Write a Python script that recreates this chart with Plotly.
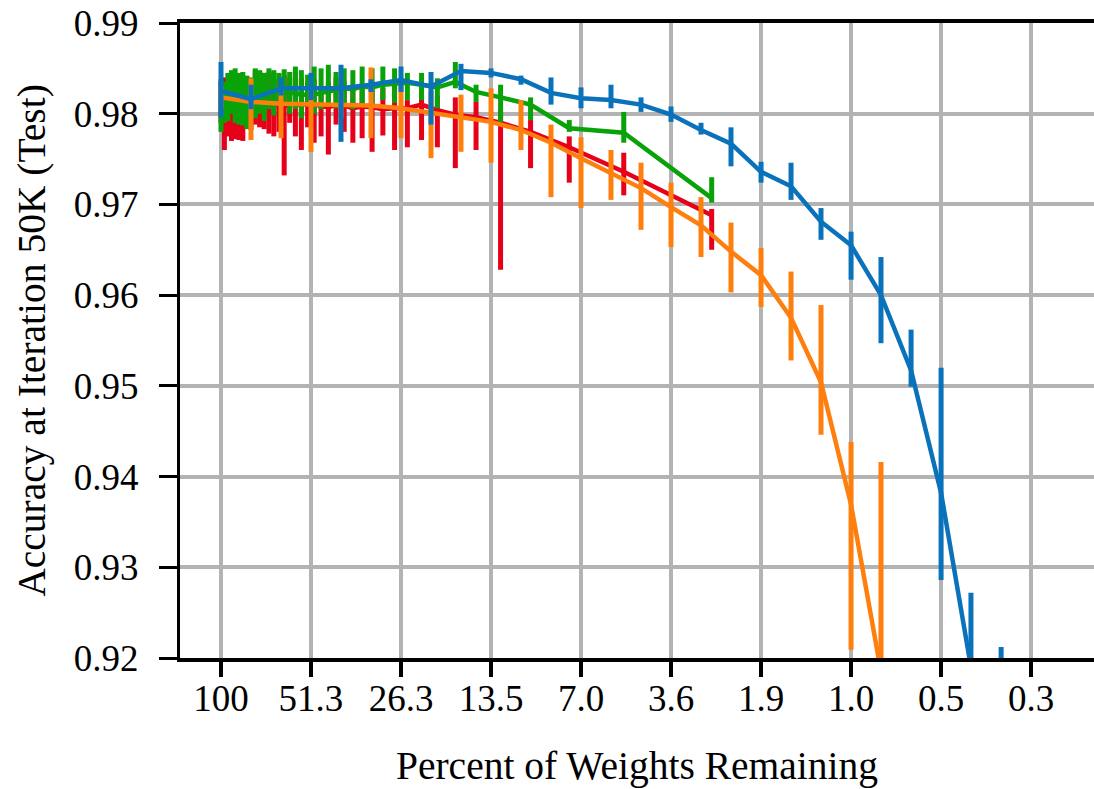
import plotly.graph_objects as go

# ---------------- data ----------------
# percent of prunable weights remaining, 20% pruned per round (blue, orange)
pct_iter = [100.0, 80.0, 64.0, 51.2, 40.96, 32.77, 26.21, 20.97, 16.78, 13.42,
            10.74, 8.59, 6.872, 5.498, 4.398, 3.518, 2.815, 2.252, 1.801, 1.441,
            1.153, 0.922, 0.738, 0.590, 0.472, 0.378, 0.302]

# percent of prunable weights remaining, 2.5 points pruned per round (red, green)
pct_lin = [100.0, 97.5, 95.0, 92.5, 90.0, 87.5, 85.0, 82.5, 80.0, 77.5,
           75.0, 72.5, 70.0, 67.5, 65.0, 62.5, 60.0, 57.5, 55.0, 52.5,
           50.0, 47.5, 45.0, 42.5, 40.0, 37.5, 35.0, 32.5, 30.0, 27.5,
           25.0, 22.5, 20.0, 17.5, 15.0, 12.5, 10.0, 7.5, 5.0, 2.6]

blue_mean = [0.9825, 0.9816, 0.9828, 0.9828, 0.9828, 0.9832, 0.9837, 0.9830, 0.9847, 0.9845,
             0.9838, 0.9823, 0.9817, 0.9815, 0.9810, 0.9799, 0.9782, 0.9767, 0.9736, 0.9720,
             0.9681, 0.9655, 0.9600, 0.9517, 0.9382, 0.9190, 0.9100]
blue_hi = [0.9857, 0.9832, 0.9840, 0.9845, 0.9854, 0.9838, 0.9852, 0.9846, 0.9855, 0.9850,
           0.9842, 0.9840, 0.9829, 0.9832, 0.9818, 0.9808, 0.9790, 0.9785, 0.9747, 0.9746,
           0.9696, 0.9670, 0.9642, 0.9562, 0.9520, 0.9272, 0.9212]
blue_lo = [0.9796, 0.9805, 0.9820, 0.9815, 0.9769, 0.9824, 0.9824, 0.9788, 0.9826, 0.9840,
           0.9832, 0.9810, 0.9806, 0.9806, 0.9802, 0.9791, 0.9777, 0.9742, 0.9724, 0.9705,
           0.9661, 0.9617, 0.9547, 0.9499, 0.9286, 0.9100, 0.9000]

orange_mean = [0.9818, 0.9813, 0.9811, 0.9810, 0.9810, 0.9809, 0.9806, 0.9801, 0.9796, 0.9791,
               0.9782, 0.9768, 0.9751, 0.9735, 0.9718, 0.9697, 0.9677, 0.9648, 0.9622, 0.9575,
               0.9504, 0.9369, 0.9185]
orange_hi = [0.9830, 0.9839, 0.9830, 0.9830, 0.9825, 0.9851, 0.9832, 0.9825, 0.9821, 0.9828,
             0.9815, 0.9788, 0.9774, 0.9760, 0.9746, 0.9724, 0.9708, 0.9680, 0.9652, 0.9626,
             0.9589, 0.9438, 0.9416]
orange_lo = [0.9805, 0.9771, 0.9773, 0.9758, 0.9795, 0.9773, 0.9773, 0.9751, 0.9758, 0.9746,
             0.9760, 0.9708, 0.9696, 0.9705, 0.9672, 0.9653, 0.9642, 0.9603, 0.9587, 0.9528,
             0.9446, 0.9209, 0.8950]

red_mean = [0.9818, 0.9815, 0.9812, 0.9810, 0.9815, 0.9813, 0.9810, 0.9812, 0.9808, 0.9815,
            0.9813, 0.9810, 0.9812, 0.9811, 0.9809, 0.9808, 0.9810, 0.9811, 0.9809, 0.9812,
            0.9810, 0.9808, 0.9807, 0.9810, 0.9809, 0.9806, 0.9808, 0.9807, 0.9805, 0.9806,
            0.9806, 0.9810, 0.9804, 0.9799, 0.9796, 0.9790, 0.9780, 0.9763, 0.9736, 0.9688]
red_hi = [0.9835, 0.9840, 0.9838, 0.9835, 0.9845, 0.9842, 0.9838, 0.9836, 0.9832, 0.9848,
          0.9847, 0.9845, 0.9846, 0.9845, 0.9838, 0.9843, 0.9840, 0.9846, 0.9839, 0.9835,
          0.9838, 0.9830, 0.9834, 0.9840, 0.9836, 0.9825, 0.9832, 0.9830, 0.9828, 0.9832,
          0.9815, 0.9825, 0.9820, 0.9818, 0.9813, 0.9805, 0.9793, 0.9775, 0.9757, 0.9695]
red_lo = [0.9790, 0.9760, 0.9775, 0.9770, 0.9772, 0.9771, 0.9770, 0.9785, 0.9782, 0.9788,
          0.9785, 0.9783, 0.9778, 0.9775, 0.9780, 0.9732, 0.9790, 0.9775, 0.9760, 0.9785,
          0.9768, 0.9775, 0.9755, 0.9788, 0.9780, 0.9768, 0.9773, 0.9758, 0.9776, 0.9760,
          0.9763, 0.9771, 0.9763, 0.9740, 0.9760, 0.9628, 0.9740, 0.9724, 0.9710, 0.9650]

green_mean = [0.9822, 0.9820, 0.9825, 0.9823, 0.9821, 0.9826, 0.9822, 0.9820, 0.9823, 0.9825,
              0.9824, 0.9822, 0.9826, 0.9824, 0.9823, 0.9825, 0.9822, 0.9824, 0.9820, 0.9822,
              0.9821, 0.9823, 0.9825, 0.9826, 0.9828, 0.9827, 0.9830, 0.9829, 0.9832, 0.9833,
              0.9834, 0.9832, 0.9829, 0.9835, 0.9824, 0.9818, 0.9810, 0.9784, 0.9779, 0.9707]
green_hi = [0.9838, 0.9835, 0.9845, 0.9848, 0.9850, 0.9845, 0.9846, 0.9842, 0.9840, 0.9850,
            0.9848, 0.9845, 0.9850, 0.9848, 0.9845, 0.9849, 0.9846, 0.9852, 0.9848, 0.9843,
            0.9852, 0.9850, 0.9854, 0.9846, 0.9850, 0.9848, 0.9852, 0.9850, 0.9852, 0.9850,
            0.9845, 0.9845, 0.9839, 0.9857, 0.9832, 0.9832, 0.9818, 0.9793, 0.9802, 0.9730]
green_lo = [0.9780, 0.9790, 0.9792, 0.9800, 0.9790, 0.9788, 0.9787, 0.9783, 0.9795, 0.9795,
            0.9800, 0.9792, 0.9805, 0.9798, 0.9810, 0.9812, 0.9800, 0.9805, 0.9795, 0.9808,
            0.9800, 0.9805, 0.9810, 0.9806, 0.9812, 0.9805, 0.9808, 0.9810, 0.9815, 0.9812,
            0.9815, 0.9815, 0.9806, 0.9828, 0.9813, 0.9791, 0.9793, 0.9780, 0.9768, 0.9702]

# tick positions (prunable-weight percent) and their printed labels (overall percent)
tick_vals = [100.0, 51.2, 26.21, 13.42, 6.872, 3.518, 1.801, 0.922, 0.472, 0.2418]
tick_text = ["100", "51.3", "26.3", "13.5", "7.0", "3.6", "1.9", "1.0", "0.5", "0.3"]
y_ticks = [0.92, 0.93, 0.94, 0.95, 0.96, 0.97, 0.98, 0.99]

# ---------------- figure ----------------
FONT = "Liberation Serif, Times New Roman, serif"
FS = 37
FT = 39.5
fig = go.Figure()


def add_series(x, mean, lo, hi, color):
    fig.add_trace(go.Scatter(
        x=x[:len(mean)], y=mean, mode="lines",
        line=dict(color=color, width=4.5),
        error_y=dict(type="data", symmetric=False,
                     array=[h - m for h, m in zip(hi, mean)],
                     arrayminus=[m - l for m, l in zip(mean, lo)],
                     color=color, thickness=5, width=0),
        showlegend=False, hoverinfo="skip"))


add_series(pct_lin, red_mean, red_lo, red_hi, "#e60019")
add_series(pct_lin, green_mean, green_lo, green_hi, "#09a309")
add_series(pct_iter, orange_mean, orange_lo, orange_hi, "#ff7f0e")
add_series(pct_iter, blue_mean, blue_lo, blue_hi, "#0a72ba")

fig.update_layout(
    width=1094, height=789,
    margin=dict(l=180, r=0, t=23, b=131),
    paper_bgcolor="white", plot_bgcolor="white",
    font=dict(family=FONT, size=FS, color="black"),
)
fig.update_xaxes(
    type="log", range=[2.1324, -0.820],
    tickvals=tick_vals, ticktext=tick_text,
    showgrid=True, gridcolor="#b3b3b3", gridwidth=4,
    showline=True, linecolor="black", linewidth=4, mirror=True,
    ticks="outside", ticklen=15, tickwidth=4, tickcolor="black",
    ticklabelstandoff=-10,
    automargin=False,
    title=dict(text="Percent of Weights Remaining", standoff=34,
               font=dict(family=FONT, size=FT)),
    tickfont=dict(family=FONT, size=FS),
    zeroline=False,
)
fig.update_yaxes(
    range=[0.92, 0.99], tickvals=y_ticks, ticktext=[f"{v:.2f}" for v in y_ticks],
    showgrid=True, gridcolor="#b3b3b3", gridwidth=4,
    showline=True, linecolor="black", linewidth=3, mirror=False,
    ticks="outside", ticklen=18, tickwidth=3, tickcolor="black",
    ticklabelstandoff=13,
    automargin=False,
    title=dict(text="Accuracy at Iteration 50K (Test)", standoff=17,
               font=dict(family=FONT, size=FT)),
    tickfont=dict(family=FONT, size=FS),
    zeroline=False,
)

fig.write_html("out.html",
               config={"displayModeBar": False},
               post_script="document.body.style.margin='0px';"
                           "document.body.style.overflow='hidden';")
